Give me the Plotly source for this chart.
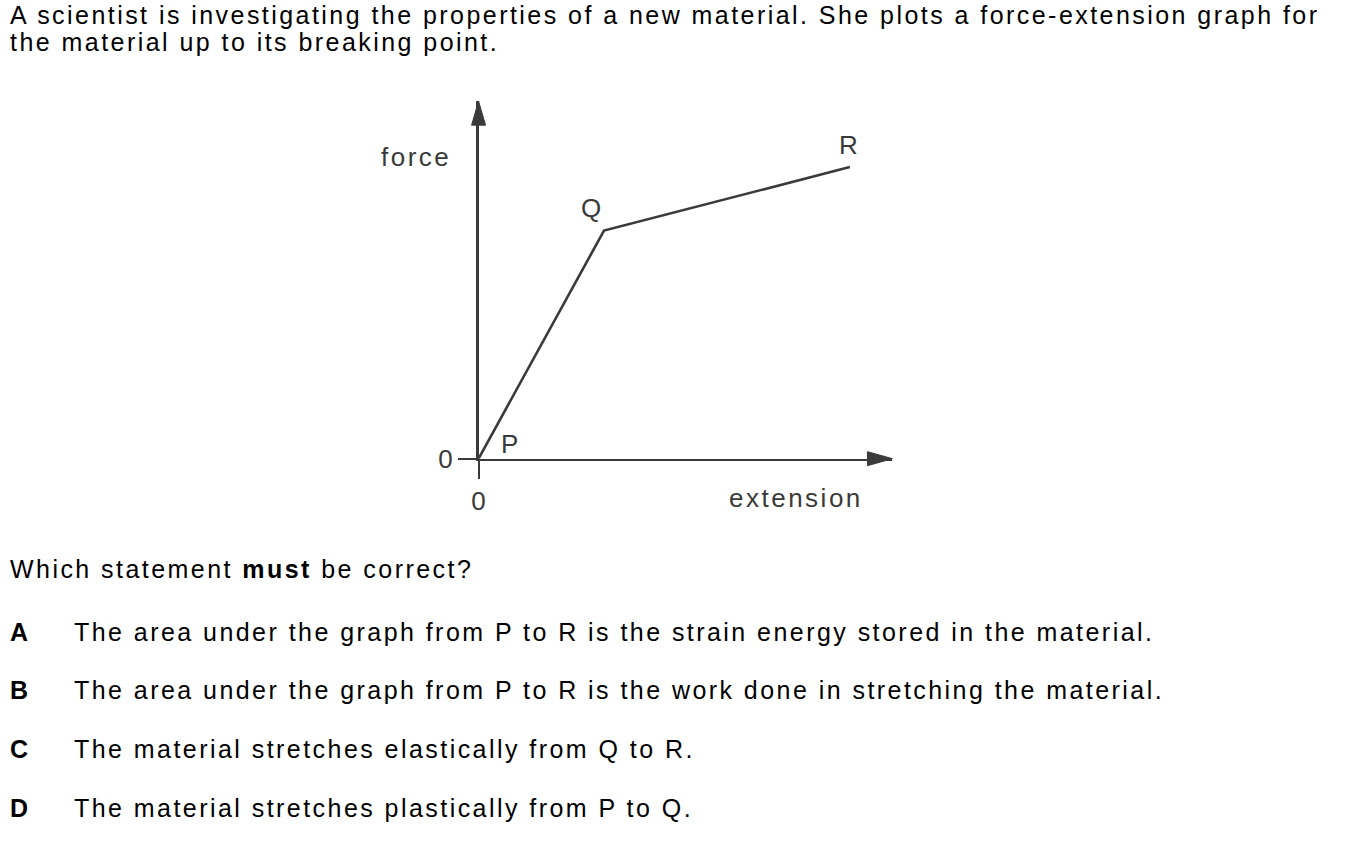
import plotly.graph_objects as go

W, H = 1370, 841

# ---- data (arbitrary units) ----
point_labels = ["P", "Q", "R"]
extension = [0.0, 1.0, 2.96]
force = [0.0, 3.7, 4.73]
x_max = 3.3
y_max = 5.8

intro_lines = [
    "A scientist is investigating the properties of a new material. She plots a force-extension graph for",
    "the material up to its breaking point.",
]
question = "Which statement <b>must</b> be correct?"
option_letters = ["A", "B", "C", "D"]
option_texts = [
    "The area under the graph from P to R is the strain energy stored in the material.",
    "The area under the graph from P to R is the work done in stretching the material.",
    "The material stretches elastically from Q to R.",
    "The material stretches plastically from P to Q.",
]

FONT = "Arial, Liberation Sans, sans-serif"
INK = "#000000"
GRAPH_INK = "#3a3a3a"
TXT = 25
GTXT = 26


def px(x):
    return x / W


def py(y):
    return 1 - y / H


x_dom = [px(474), px(890)]
y_dom = [py(467), py(103)]

fig = go.Figure()
fig.add_trace(go.Scatter(
    x=extension, y=force, mode="lines",
    line=dict(color=GRAPH_INK, width=2.6),
    hoverinfo="skip", showlegend=False,
))

axis_common = dict(
    showgrid=False, zeroline=False, showline=True, linecolor=GRAPH_INK, linewidth=2.6,
    tickvals=[0], ticktext=["0"], ticks="outside", ticklen=18,
    tickwidth=2, tickcolor=GRAPH_INK,
    tickfont=dict(size=GTXT, color=GRAPH_INK, family=FONT),
    fixedrange=True,
)
fig.update_layout(
    width=W, height=H,
    margin=dict(l=0, r=0, t=0, b=0),
    paper_bgcolor="white", plot_bgcolor="white",
    font=dict(family=FONT, color=INK),
    xaxis=dict(domain=x_dom, range=[0, x_max], **axis_common),
    yaxis=dict(domain=y_dom, range=[0, y_max], **axis_common),
)

# arrowheads at the axis ends
fig.add_shape(type="path", xref="paper", yref="paper", xsizemode="pixel", ysizemode="pixel",
              xanchor=x_dom[1], yanchor=y_dom[0], path="M0,0 L-25,7 L-25,-7 Z",
              fillcolor=GRAPH_INK, line=dict(color=GRAPH_INK, width=1))
fig.add_shape(type="path", xref="paper", yref="paper", xsizemode="pixel", ysizemode="pixel",
              xanchor=x_dom[0], yanchor=y_dom[1], path="M0,0 L-7,-24 L7,-24 Z",
              fillcolor=GRAPH_INK, line=dict(color=GRAPH_INK, width=1))

# point labels
label_shifts = [(31, 15), (-13, 23), (-1, 22)]
for lab, xv, yv, (dx, dy) in zip(point_labels, extension, force, label_shifts):
    fig.add_annotation(x=xv, y=yv, xref="x", yref="y", text=lab, showarrow=False,
                       xshift=dx, yshift=dy,
                       font=dict(size=GTXT, color=GRAPH_INK, family=FONT))

# axis titles
fig.add_annotation(x=px(374), y=py(160), xref="paper", yref="paper", text="force",
                   showarrow=False, xanchor="left", yanchor="middle",
                   font=dict(size=GTXT, color=GRAPH_INK, family=FONT))
fig.add_annotation(x=px(724), y=py(507), xref="paper", yref="paper", text="extension",
                   showarrow=False, xanchor="left", yanchor="middle",
                   font=dict(size=GTXT, color=GRAPH_INK, family=FONT))

# question text
LEFT = 1
intro_y = [15, 43]
for line, yy in zip(intro_lines, intro_y):
    fig.add_annotation(x=px(LEFT), y=py(yy), xref="paper", yref="paper", text=line,
                       showarrow=False, xanchor="left", yanchor="middle",
                       font=dict(size=TXT, color=INK, family=FONT))
fig.add_annotation(x=px(LEFT), y=py(579), xref="paper", yref="paper", text=question,
                   showarrow=False, xanchor="left", yanchor="middle",
                   font=dict(size=TXT, color=INK, family=FONT))
for i, (letter, txt) in enumerate(zip(option_letters, option_texts)):
    yy = 643 + 60 * i
    fig.add_annotation(x=px(LEFT), y=py(yy), xref="paper", yref="paper", text=f"<b>{letter}</b>",
                       showarrow=False, xanchor="left", yanchor="middle",
                       font=dict(size=TXT, color=INK, family=FONT))
    fig.add_annotation(x=px(65), y=py(yy), xref="paper", yref="paper", text=txt,
                       showarrow=False, xanchor="left", yanchor="middle",
                       font=dict(size=TXT, color=INK, family=FONT))

post = """
document.body.style.margin='0';
document.body.style.overflow='hidden';
function fixSpacing(){
  document.querySelectorAll('text.annotation-text').forEach(function(t){
    if (t.getAttribute('data-ls') === '1') return;
    var fs = parseFloat(t.style.fontSize);
    var bb = t.getBBox();
    t.style.letterSpacing = (fs > 25.5) ? '2.5px' : '2.45px';
    t.setAttribute('text-anchor', 'start');
    t.setAttribute('x', bb.x);
    t.setAttribute('data-ls', '1');
  });
}
fixSpacing();
setTimeout(fixSpacing, 30);
setTimeout(fixSpacing, 300);
"""
fig.write_html("out.html", config={"displayModeBar": False, "staticPlot": True},
               post_script=post)
